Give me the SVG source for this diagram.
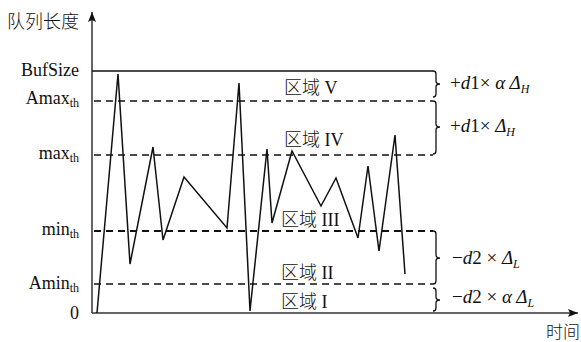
<svg xmlns="http://www.w3.org/2000/svg" width="581" height="342" viewBox="0 0 581 342">
<defs>
<style>
text{font-family:"Liberation Serif","Noto Sans CJK SC",serif;fill:#111}
.cjk{font-family:"Noto Sans CJK SC",serif;font-weight:300}
.axis{stroke:#333;stroke-width:1.5;fill:none}
.solid{stroke:#111;stroke-width:1.3;fill:none}
.dash{stroke:#111;stroke-width:1.5;stroke-dasharray:7 5;fill:none}
.dashb{stroke:#111;stroke-width:2.2;stroke-dasharray:7 5;fill:none}
.brace{stroke:#111;stroke-width:1.3;fill:none}
.wave{stroke:#111;stroke-width:1.5;fill:none;stroke-linejoin:miter}
.lab{font-size:18px;text-anchor:end}
.sub{font-size:12px}
.reg{font-size:18px}
.m{font-size:19px}
.i{font-style:italic}
</style>
<marker id="ah" viewBox="0 0 10 8" refX="10" refY="4" markerWidth="10" markerHeight="8" markerUnits="userSpaceOnUse" orient="auto">
<path d="M0,0 L10,4 L0,8 L2,4 z" fill="#111"/>
</marker>
</defs>

<g id="axes">
<line class="axis" x1="92" y1="313" x2="92" y2="12" marker-end="url(#ah)"/>
<line class="axis" x1="92" y1="313" x2="578" y2="313" marker-end="url(#ah)"/>
<text x="7" y="28" class="cjk" style="font-size:18px">队列长度</text>
<text x="546" y="338" class="cjk" style="font-size:17px">时间</text>
</g>

<g id="levels">
<line class="solid" x1="92" y1="71" x2="433" y2="71"/>
<line class="dash" x1="94" y1="101" x2="433" y2="101"/>
<line class="dash" x1="94" y1="155" x2="433" y2="155"/>
<line class="dashb" x1="94" y1="231" x2="433" y2="231"/>
<line class="dash" x1="94" y1="284" x2="433" y2="284"/>
</g>

<g id="ylabels">
<text class="lab" x="79" y="76">BufSize</text>
<text class="lab" x="79" y="104">Amax<tspan class="sub" dy="3">th</tspan></text>
<text class="lab" x="79" y="159">max<tspan class="sub" dy="3">th</tspan></text>
<text class="lab" x="79" y="235">min<tspan class="sub" dy="3">th</tspan></text>
<text class="lab" x="79" y="289">Amin<tspan class="sub" dy="3">th</tspan></text>
<text class="lab" x="79" y="319">0</text>
</g>

<g id="wave">
<polyline class="wave" points="97,313 118,74 130,264 153,147 163,240 184,177 227,228 239,83 250,311 267,149 272,223 292,151 321,206 336,178 358,238 368,166 379,251 395,135 405,274"/>
</g>

<g id="regions">
<text class="reg" x="284" y="94"><tspan class="cjk">区域</tspan> V</text>
<text class="reg" x="284" y="146"><tspan class="cjk">区域</tspan> IV</text>
<text class="reg" x="281" y="226"><tspan class="cjk">区域</tspan> III</text>
<text class="reg" x="281" y="279"><tspan class="cjk">区域</tspan> II</text>
<text class="reg" x="281" y="308"><tspan class="cjk">区域</tspan> I</text>
</g>

<g id="braces">
<path class="brace" d="M433,71 Q436,71 436,74 L436,81 Q436,84 440,84 Q436,84 436,87 L436,94 Q436,97 433,97"/>
<path class="brace" d="M433,101 Q436,101 436,104 L436,124 Q436,127 440,127 Q436,127 436,130 L436,151 Q436,154 433,154"/>
<path class="brace" d="M433,231 Q436,231 436,234 L436,255 Q436,258 440,258 Q436,258 436,261 L436,281 Q436,284 433,284"/>
<path class="brace" d="M433,288 Q436,288 436,291 L436,297 Q436,300 440,300 Q436,300 436,303 L436,308 Q436,311 433,311"/>
</g>

<g id="formulas">
<text class="m" x="450" y="89">+<tspan class="i">d</tspan>1×<tspan class="i"> α Δ</tspan><tspan class="sub i" dy="4">H</tspan></text>
<text class="m" x="450" y="132">+<tspan class="i">d</tspan>1× <tspan class="i">Δ</tspan><tspan class="sub i" dy="4">H</tspan></text>
<text class="m" x="452" y="264">−<tspan class="i">d</tspan>2 × <tspan class="i">Δ</tspan><tspan class="sub i" dy="4">L</tspan></text>
<text class="m" x="452" y="303">−<tspan class="i">d</tspan>2 × <tspan class="i">α Δ</tspan><tspan class="sub i" dy="4">L</tspan></text>
</g>
</svg>
